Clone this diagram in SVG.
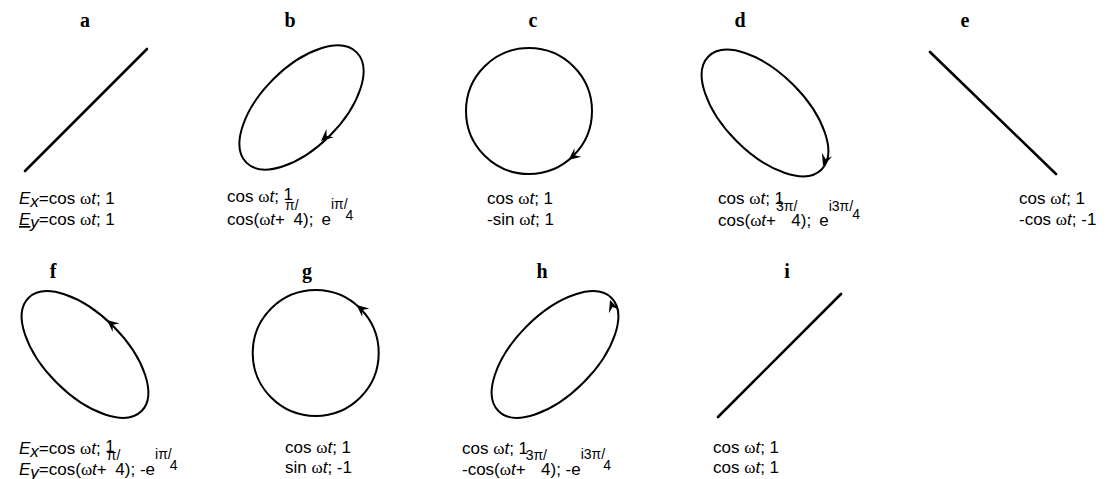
<svg xmlns="http://www.w3.org/2000/svg" xmlns:xlink="http://www.w3.org/1999/xlink" width="1117" height="479" viewBox="0 0 1117 479">
<style>
.t{font-family:"Liberation Sans",Arial,sans-serif;font-size:17px;fill:#000}
.w{font-family:"Liberation Serif","Times New Roman",serif}
.i{font-style:italic}
.s{font-size:14px}
.lbl{font-family:"Liberation Serif","Times New Roman",serif;font-weight:bold;font-size:20px;text-anchor:middle;fill:#000}
.cv{fill:none;stroke:#000;stroke-width:2}
.ln{fill:none;stroke:#000;stroke-width:2.6;stroke-linecap:round}
.ah{fill:#000}
</style>
<defs>
<path id="ah" d="M0,0 L-12,-5.5 L-7.5,0 L-12,5.5 Z"/>
</defs>
<rect width="1117" height="479" fill="#fff"/>

<g id="panel-a">
<text class="lbl" x="85" y="27">a</text>
<line class="ln" x1="25" y1="171" x2="147" y2="49"/>
<text class="t" x="19" y="204"><tspan class="i">E</tspan><tspan class="i" dy="3">x</tspan><tspan dy="-3">=cos </tspan><tspan class="w">ω</tspan><tspan class="i">t</tspan>; 1</text>
<text class="t" x="19" y="225"><tspan class="i" text-decoration="underline">E</tspan><tspan class="i" dy="3">y</tspan><tspan dy="-3">=cos </tspan><tspan class="w">ω</tspan><tspan class="i">t</tspan>; 1</text>
</g>

<g id="panel-b">
<text class="lbl" x="290" y="27">b</text>
<ellipse class="cv" cx="301.5" cy="107.5" rx="78" ry="40" transform="rotate(-45 301.5 107.5)"/>
<use xlink:href="#ah" class="ah" transform="translate(321 141) rotate(139)"/>
<text class="t" x="227" y="202">cos <tspan class="w">ω</tspan><tspan class="i">t</tspan>; <tspan dy="-2">1</tspan></text>
<text class="t" x="227" y="225">cos(<tspan class="w">ω</tspan><tspan class="i">t</tspan>+<tspan class="s" dy="-15">π/</tspan><tspan dy="15" dx="-5">4</tspan>);<tspan dx="8">e</tspan><tspan class="s" dy="-16">iπ/</tspan><tspan class="s" dy="11" dx="-2">4</tspan></text>
</g>

<g id="panel-c">
<text class="lbl" x="533" y="27">c</text>
<circle class="cv" cx="529" cy="111" r="63"/>
<use xlink:href="#ah" class="ah" transform="translate(568.6 160) rotate(141)"/>
<text class="t" x="487" y="204">cos <tspan class="w">ω</tspan><tspan class="i">t</tspan>; 1</text>
<text class="t" x="487" y="225">-sin <tspan class="w">ω</tspan><tspan class="i">t</tspan>; 1</text>
</g>

<g id="panel-d">
<text class="lbl" x="740" y="27">d</text>
<ellipse class="cv" cx="765" cy="113" rx="80" ry="40" transform="rotate(45 765 113)"/>
<use xlink:href="#ah" class="ah" transform="translate(823 166) rotate(110)"/>
<text class="t" x="718" y="204">cos <tspan class="w">ω</tspan><tspan class="i">t</tspan>; 1</text>
<text class="t" x="718" y="226">cos(<tspan class="w">ω</tspan><tspan class="i">t</tspan>+<tspan class="s" dy="-15">3π/</tspan><tspan dy="15" dx="-6">4</tspan>);<tspan dx="8">e</tspan><tspan class="s" dy="-15">i3π/</tspan><tspan class="s" dy="8" dx="-1">4</tspan></text>
</g>

<g id="panel-e">
<text class="lbl" x="965" y="27">e</text>
<line class="ln" x1="930" y1="52" x2="1056" y2="174"/>
<text class="t" x="1019" y="204">cos <tspan class="w">ω</tspan><tspan class="i">t</tspan>; 1</text>
<text class="t" x="1019" y="225">-cos <tspan class="w">ω</tspan><tspan class="i">t</tspan>; -1</text>
</g>

<g id="panel-f">
<text class="lbl" x="53" y="278">f</text>
<ellipse class="cv" cx="85" cy="354.5" rx="80" ry="40" transform="rotate(45 85 354.5)"/>
<use xlink:href="#ah" class="ah" transform="translate(107 320) rotate(220)"/>
<text class="t" x="19" y="454"><tspan class="i">E</tspan><tspan class="i" dy="3">x</tspan><tspan dy="-3">=cos </tspan><tspan class="w">ω</tspan><tspan class="i">t</tspan>; <tspan dy="-2">1</tspan></text>
<text class="t" x="19" y="475"><tspan class="i">E</tspan><tspan class="i" dy="3">y</tspan><tspan dy="-3">=cos(</tspan><tspan class="w">ω</tspan><tspan class="i">t</tspan>+<tspan class="s" dy="-15">π/</tspan><tspan dy="15" dx="-5">4</tspan>); -e<tspan class="s" dy="-16">iπ/</tspan><tspan class="s" dy="11" dx="-2">4</tspan></text>
</g>

<g id="panel-g">
<text class="lbl" x="307" y="278">g</text>
<circle class="cv" cx="315.7" cy="353" r="63"/>
<use xlink:href="#ah" class="ah" transform="translate(356.6 305.1) rotate(220)"/>
<text class="t" x="285" y="453">cos <tspan class="w">ω</tspan><tspan class="i">t</tspan>; 1</text>
<text class="t" x="285" y="473">sin <tspan class="w">ω</tspan><tspan class="i">t</tspan>; -1</text>
</g>

<g id="panel-h">
<text class="lbl" x="542" y="278">h</text>
<ellipse class="cv" cx="555" cy="354.5" rx="80" ry="40" transform="rotate(-45 555 354.5)"/>
<use xlink:href="#ah" class="ah" transform="translate(610 300) rotate(250)"/>
<text class="t" x="462" y="454">cos <tspan class="w">ω</tspan><tspan class="i">t</tspan>; 1</text>
<text class="t" x="462" y="475">-cos(<tspan class="w">ω</tspan><tspan class="i">t</tspan>+<tspan class="s" dy="-15">3π/</tspan><tspan dy="15" dx="-6">4</tspan>); -e<tspan class="s" dy="-16">i3π/</tspan><tspan class="s" dy="11" dx="-2">4</tspan></text>
</g>

<g id="panel-i">
<text class="lbl" x="787" y="278">i</text>
<line class="ln" x1="718" y1="417" x2="841" y2="294"/>
<text class="t" x="713" y="453">cos <tspan class="w">ω</tspan><tspan class="i">t</tspan>; 1</text>
<text class="t" x="713" y="473">cos <tspan class="w">ω</tspan><tspan class="i">t</tspan>; 1</text>
</g>

<g id="connectors"></g>
</svg>
